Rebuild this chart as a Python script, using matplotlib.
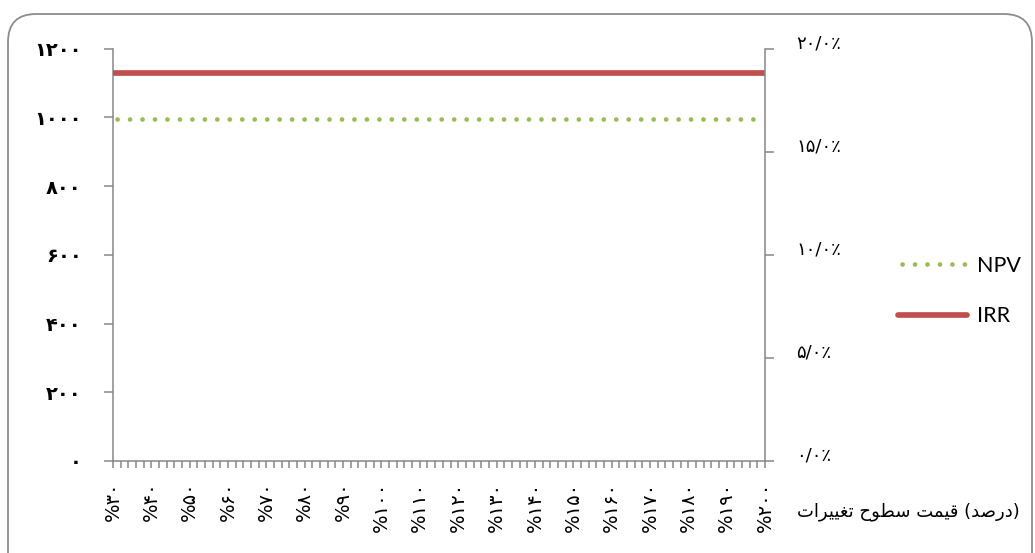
import matplotlib
matplotlib.use("Agg")
import matplotlib.pyplot as plt
from matplotlib.patches import FancyBboxPatch
from matplotlib.transforms import IdentityTransform

# ---- data -------------------------------------------------------------
# price-level change categories (percent), one every 2 %
price_change = list(range(30, 201, 2))
npv_value = 995          # NPV stays flat over the whole range
irr_value = 0.188        # IRR stays flat over the whole range
npv = [npv_value] * len(price_change)
irr = [irr_value] * len(price_change)

x_labels = ["%۳۰", "%۴۰", "%۵۰", "%۶۰", "%۷۰", "%۸۰", "%۹۰", "%۱۰۰", "%۱۱۰",
            "%۱۲۰", "%۱۳۰", "%۱۴۰", "%۱۵۰", "%۱۶۰", "%۱۷۰", "%۱۸۰", "%۱۹۰", "%۲۰۰"]
left_ticks = [0, 200, 400, 600, 800, 1000, 1200]
left_labels = ["۰", "۲۰۰", "۴۰۰", "۶۰۰", "۸۰۰", "۱۰۰۰", "۱۲۰۰"]
right_ticks = [0.0, 0.05, 0.10, 0.15, 0.20]
right_labels = ["۰/۰٪", "۵/۰٪", "۱۰/۰٪", "۱۵/۰٪", "۲۰/۰٪"]
axis_title = "تغییرات سطوح قیمت (درصد)"

# ---- minimal Arabic-script shaping (matplotlib has no shaping engine) ---
FORMS = {  # isolated, final, initial, medial
    'ت': ('\uFE95', '\uFE96', '\uFE97', '\uFE98'),
    'غ': ('\uFECD', '\uFECE', '\uFECF', '\uFED0'),
    'ی': ('\uFEEF', '\uFEF0', '\uFEF3', '\uFEF4'),
    'ر': ('\uFEAD', '\uFEAE', None, None),
    'ا': ('\uFE8D', '\uFE8E', None, None),
    'س': ('\uFEB1', '\uFEB2', '\uFEB3', '\uFEB4'),
    'ط': ('\uFEC1', '\uFEC2', '\uFEC3', '\uFEC4'),
    'و': ('\uFEED', '\uFEEE', None, None),
    'ح': ('\uFEA1', '\uFEA2', '\uFEA3', '\uFEA4'),
    'ق': ('\uFED5', '\uFED6', '\uFED7', '\uFED8'),
    'م': ('\uFEE1', '\uFEE2', '\uFEE3', '\uFEE4'),
    'د': ('\uFEA9', '\uFEAA', None, None),
    'ص': ('\uFEB9', '\uFEBA', '\uFEBB', '\uFEBC'),
}


def shape_word(word):
    """Pick contextual letter forms and lay the word out right-to-left."""
    out = []
    for i, ch in enumerate(word):
        if ch not in FORMS:
            out.append(ch)
            continue
        prev = word[i - 1] if i > 0 else None
        nxt = word[i + 1] if i + 1 < len(word) else None
        join_prev = prev in FORMS and FORMS[prev][2] is not None
        join_next = FORMS[ch][2] is not None and nxt in FORMS
        iso, fin, ini, med = FORMS[ch]
        if join_prev and join_next:
            out.append(med)
        elif join_prev:
            out.append(fin)
        elif join_next:
            out.append(ini)
        else:
            out.append(iso)
    return ''.join(reversed(out))


def shape_text(text):
    tokens = []
    for tok in text.split(' '):
        if tok.startswith('(') and tok.endswith(')'):
            tokens.append('(' + shape_word(tok[1:-1]) + ')')
        else:
            tokens.append(shape_word(tok))
    return ' '.join(tokens)


# ---- figure -----------------------------------------------------------
W, H = 1035, 553
fig = plt.figure(figsize=(W / 100, H / 100), dpi=100)
fig.patch.set_facecolor('white')

grey = '#878787'
green = '#9BBB59'
red = '#C0504D'

# rounded outer frame of the chart area
frame = FancyBboxPatch((8, -60), 1024, H - 14 + 60,
                       boxstyle='round,pad=0,rounding_size=28',
                       transform=IdentityTransform(), fill=False,
                       ec='#8c8c8c', lw=1.3)
fig.add_artist(frame)

left, right, top, bottom = 113, 765, 48.5, 461
ax = fig.add_axes([left / W, 1 - bottom / H, (right - left) / W, (bottom - top) / H])
ax2 = ax.twinx()

xpos = list(range(len(price_change)))

npv_line, = ax.plot(xpos, npv, color=green, lw=3.4,
                    linestyle=(1.78, (0.01, 2.63)), dash_capstyle='round',
                    label='NPV')
irr_line, = ax2.plot(xpos, irr, color=red, lw=4.1, solid_capstyle='round',
                     label='IRR')

ax.set_xlim(0, len(price_change) - 1)
ax.set_ylim(0, 1200)
ax2.set_ylim(0, 0.20)

# category ticks at every point, labels every tenth percent
tick_text = [''] * len(price_change)
for i, lab in enumerate(x_labels):
    tick_text[i * 5] = lab
ax.set_xticks(xpos)
ax.set_xticklabels(tick_text, rotation=90, fontsize=14,
                   family=['DejaVu Sans'], va='top', ha='center')
ax.tick_params(axis='x', direction='out', length=4.8, width=1.1,
               color=grey, pad=10)

ax.set_yticks(left_ticks)
ax.set_yticklabels(left_labels, fontsize=14, fontweight='bold',
                   family=['DejaVu Sans'])
ax.tick_params(axis='y', direction='out', length=6.5, width=1.1,
               color=grey, pad=16)

ax2.set_yticks(right_ticks)
ax2.set_yticklabels(right_labels, fontsize=13, family=['DejaVu Sans'],
                    va='baseline')
ax2.tick_params(axis='y', direction='out', length=6.5, width=1.1,
                color=grey, pad=16)

for a in (ax, ax2):
    for s in a.spines.values():
        s.set_color(grey)
        s.set_linewidth(1.1)
    a.spines['top'].set_visible(False)
ax.spines['right'].set_visible(False)
ax2.spines['left'].set_visible(False)
ax2.spines['bottom'].set_visible(False)

fig.text(797 / W, 1 - 512 / H, shape_text(axis_title), ha='left',
         va='center', fontsize=13, family=['DejaVu Sans'])

fig.legend([npv_line, irr_line], ['NPV', 'IRR'], loc='upper left',
           bbox_to_anchor=(898 / W, 1 - 256 / H), frameon=False,
           borderpad=0, borderaxespad=0, handlelength=3.2,
           handletextpad=0.45, labelspacing=1.4,
           prop={'family': 'Lato', 'size': 15.5})

fig.savefig('out.png', dpi=100, facecolor='white')
